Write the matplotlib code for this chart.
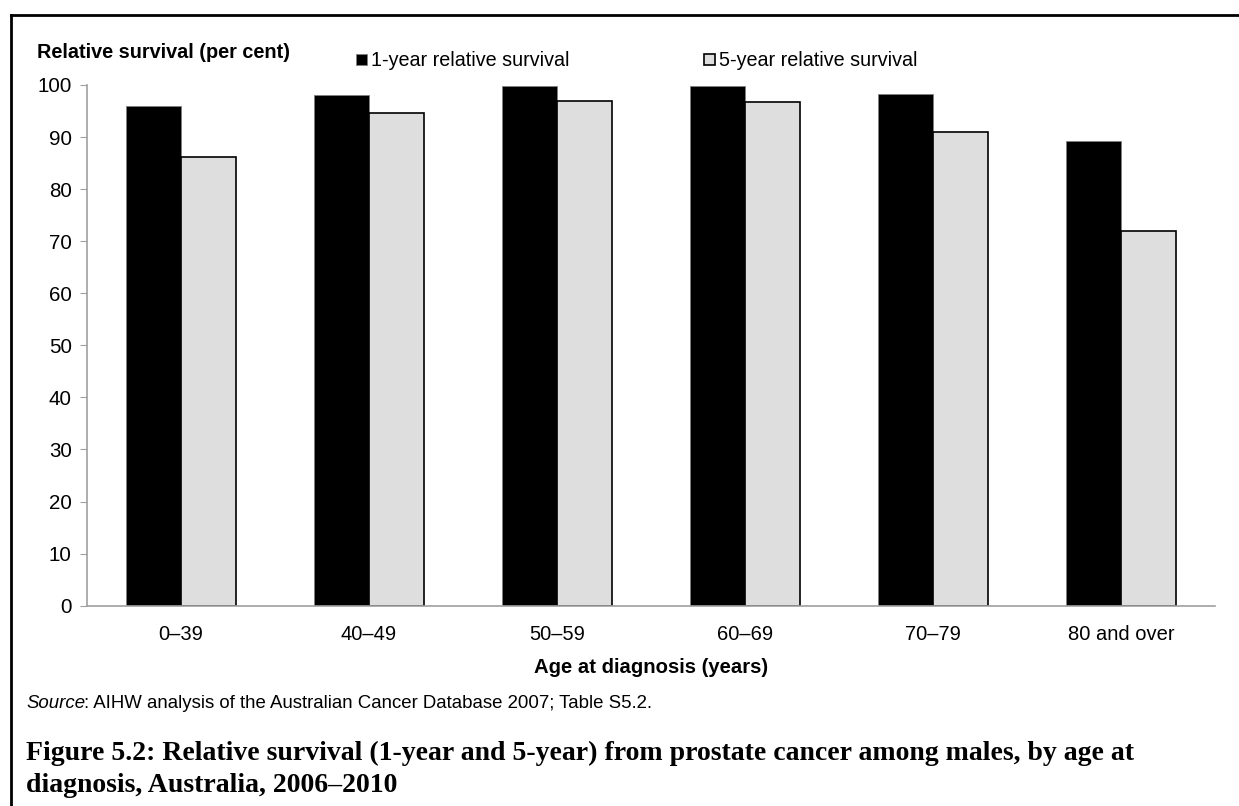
import numpy as np
import matplotlib.pyplot as plt
from matplotlib.patches import Patch
from matplotlib.lines import Line2D

# Data
age_groups = ["0\u201339", "40\u201349", "50\u201359", "60\u201369", "70\u201379", "80 and over"]
one_year = [96.0, 98.1, 99.9, 99.8, 98.3, 89.3]
five_year = [86.2, 94.6, 96.9, 96.7, 91.0, 72.0]

W, H = 1239, 806
plt.rcParams['font.family'] = ['Liberation Sans', 'DejaVu Sans']
serif = ['Liberation Serif', 'DejaVu Serif']

fig = plt.figure(figsize=(W / 100, H / 100), dpi=100)
ax = fig.add_axes([87 / W, 1 - 605.7 / H, (1215 - 87) / W, (605.7 - 85) / H])

x = np.arange(len(age_groups))
bw = 0.293
ax.bar(x - bw / 2, one_year, bw, color='black', edgecolor='#808080', linewidth=0.6)
ax.bar(x + bw / 2, five_year, bw, color='#DEDEDE', edgecolor='black', linewidth=1.2)

ax.set_xlim(-0.5, len(age_groups) - 0.5)
ax.set_ylim(0, 100)
ax.set_yticks(range(0, 101, 10))
ax.set_xticks(x)
ax.set_xticklabels(age_groups)
ax.tick_params(axis='x', length=0, labelsize=14.5, pad=14)
ax.tick_params(axis='y', length=5, color='#A0A0A0', labelsize=14.8, pad=6)
for s in ['top', 'right']:
    ax.spines[s].set_visible(False)
for s in ['left', 'bottom']:
    ax.spines[s].set_color('#A0A0A0')
    ax.spines[s].set_linewidth(1.2)

ax.set_xlabel('Age at diagnosis (years)', fontsize=14.6, fontweight='bold', labelpad=10)

# legend
handles = [Patch(facecolor='black', edgecolor='#808080', linewidth=0.6),
           Patch(facecolor='#DEDEDE', edgecolor='black', linewidth=1.2)]
fig.legend(handles, ['1-year relative survival', '5-year relative survival'],
           loc='center left', bbox_to_anchor=(356 / W, 1 - 61 / H), ncol=2,
           frameon=False, fontsize=14.2, handlelength=0.55, handleheight=0.55,
           handletextpad=0.2, columnspacing=6.85, borderpad=0, borderaxespad=0)

fig.text(37 / W, 1 - 53 / H, 'Relative survival (per cent)', fontsize=14.3,
         fontweight='bold', va='center', ha='left')

# source line
t1 = fig.text(26 / W, 1 - 703 / H, 'Source', fontsize=13.4, style='italic',
              va='center', ha='left')
fig.canvas.draw()
bb = t1.get_window_extent()
fig.text((bb.x1 - 1) / W, 1 - 703 / H,
         ': AIHW analysis of the Australian Cancer Database 2007; Table S5.2.',
         fontsize=13.4, va='center', ha='left')

# caption
fig.text(26 / W, 1 - 753 / H,
         'Figure 5.2: Relative survival (1-year and 5-year) from prostate cancer among males, by age at',
         family=serif, fontsize=20, fontweight='bold', va='center', ha='left')
fig.text(26 / W, 1 - 785 / H, 'diagnosis, Australia, 2006\u20132010',
         family=serif, fontsize=20, fontweight='bold', va='center', ha='left')

# frame around the figure (top and left edges visible)
fig.add_artist(Line2D([11 / W, 11 / W], [0, 1 - 15 / H], color='black', lw=2,
                      transform=fig.transFigure))
fig.add_artist(Line2D([11 / W, 1], [1 - 15 / H, 1 - 15 / H], color='black', lw=2,
                      transform=fig.transFigure))

fig.savefig('out.png', dpi=100)
